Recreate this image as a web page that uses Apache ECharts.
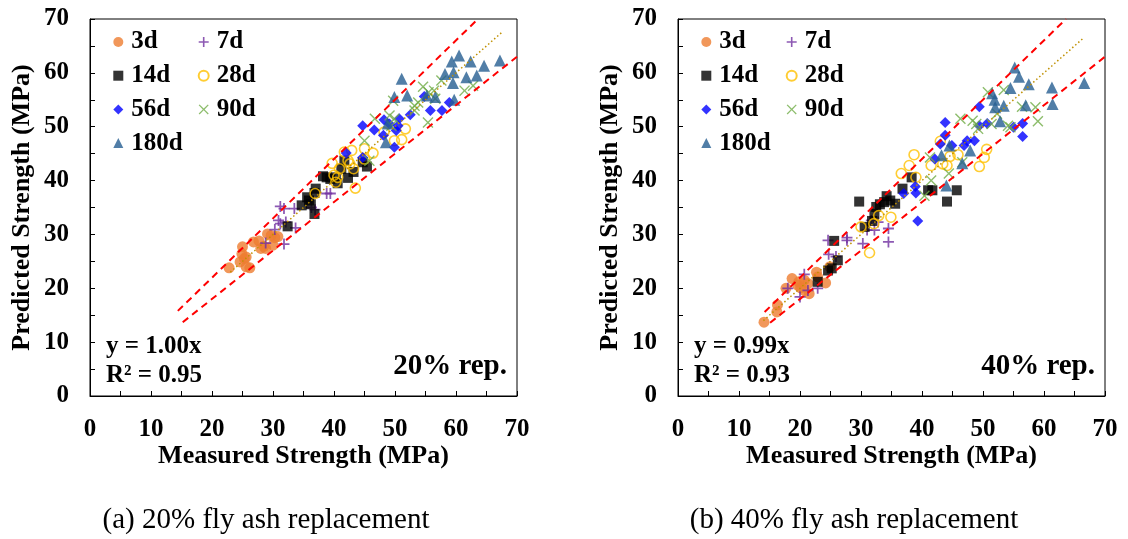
<!DOCTYPE html>
<html><head><meta charset="utf-8">
<script src="https://cdn.jsdelivr.net/npm/echarts@6/dist/echarts.min.js"></script>
<style>html,body{margin:0;padding:0;background:#fff}#c{width:1128px;height:539px}</style>
</head><body><div id="c"></div>
<script>
const FONT = '"Liberation Serif","Times New Roman",serif';
const seriesNames = ['3d','7d','14d','28d','56d','90d','180d'];
const axisMin = 0, axisMax = 70, axisStep = 10;
const xTitle = 'Measured Strength (MPa)';
const yTitle = 'Predicted Strength (MPa)';
const captions = ['(a) 20% fly ash replacement', '(b) 40% fly ash replacement'];
const equations = [['y = 1.00x', 'R² = 0.95'], ['y = 0.99x', 'R² = 0.93']];
const panelTags = ['20% rep.', '40% rep.'];

// ---- (a) 20% replacement: [measured, predicted]
const L3d = [[22.8,23.8],[25.0,27.7],[24.9,26.4],[25.3,25.5],[24.6,24.9],[25.6,24.0],[26.2,23.8],[26.8,28.6],[27.7,28.8],[28.0,27.4],[28.5,27.8],[29.1,30.1],[29.7,29.8],[30.3,29.4],[30.8,29.6],[30.0,28.0],[28.8,27.4],[25.6,25.8]];
const L7d = [[28.8,28.4],[31.2,35.2],[31.8,34.8],[33.5,34.8],[30.9,32.6],[31.2,32.0],[32.1,32.3],[30.3,30.9],[31.8,28.2],[33.7,31.2],[38.8,37.6],[39.4,37.6],[36.3,35.0],[36.9,34.6]];
const L14d = [[32.4,31.5],[34.7,35.4],[35.6,36.9],[35.9,36.3],[36.2,35.6],[36.8,33.8],[37.0,38.5],[36.8,37.7],[38.2,40.8],[38.8,40.6],[39.4,40.3],[40.6,39.5],[40.3,40.6],[41.7,43.7],[42.3,40.5],[43.2,41.6],[45.4,42.6],[44.7,43.4],[41.2,42.2]];
const L28d = [[36.9,37.6],[39.7,43.2],[40.0,41.0],[40.6,40.6],[40.9,42.2],[41.7,45.3],[42.9,45.6],[42.3,43.7],[42.6,43.1],[43.2,42.2],[43.5,38.6],[45.0,45.9],[45.0,44.0],[46.4,45.1],[48.2,49.0],[49.9,47.4],[51.1,47.6],[51.7,49.6],[40.3,39.7]];
const L56d = [[42.0,45.1],[44.7,50.2],[44.7,44.3],[46.6,49.4],[48.1,48.4],[48.2,51.3],[49.1,50.5],[49.9,46.2],[50.2,49.3],[50.7,51.5],[50.5,50.2],[52.5,52.2],[54.8,55.6],[55.8,53.0],[57.7,53.0],[58.9,54.5]];
const L90d = [[45.0,47.4],[45.8,43.7],[46.7,51.5],[49.1,52.1],[49.7,54.8],[49.4,50.2],[53.2,53.9],[53.8,54.5],[54.6,57.4],[55.5,56.4],[55.4,50.8],[56.6,55.2],[57.6,58.6],[61.4,56.7],[62.8,57.6],[56.4,56.7],[53.2,53.0],[49.9,51.5]];
const L180d = [[48.5,47.1],[48.8,50.6],[49.9,55.5],[51.1,58.9],[52.0,55.8],[55.2,55.8],[56.6,55.5],[58.2,59.8],[59.3,62.1],[59.5,58.1],[59.6,60.1],[60.5,63.2],[61.7,59.2],[62.4,62.1],[63.4,59.5],[64.6,61.3],[67.2,62.3],[59.7,55.0]];
const LupperBand = [[14.4,15.8],[63.6,70]];
const LlowerBand = [[15.2,13.7],[70,63]];
const LfitLine = [[23,23],[67.5,67.5]];

// ---- (b) 40% replacement
const R3d = [[14.1,13.7],[16.2,15.6],[16.3,16.9],[17.7,20.0],[18.7,21.8],[19.6,20.6],[20.1,20.1],[20.7,21.5],[21.3,20.9],[21.5,19.0],[22.7,23.0],[22.9,22.1],[24.2,21.0],[24.9,24.0],[19.8,21.2],[20.7,19.6]];
const R7d = [[18.0,20.0],[20.0,18.4],[20.7,22.6],[21.3,19.6],[22.9,20.0],[24.6,28.9],[24.7,26.3],[25.9,25.9],[27.7,29.4],[27.7,28.9],[30.3,28.3],[31.0,30.8],[32.2,30.8],[32.8,32.3],[34.5,31.1],[34.5,28.6],[31.7,32.6]];
const R14d = [[22.9,21.2],[24.6,23.3],[25.2,23.7],[25.6,28.8],[26.2,25.2],[29.7,36.1],[30.6,31.4],[31.8,32.5],[32.5,35.1],[33.1,35.6],[33.8,36.0],[34.2,37.1],[34.8,36.3],[35.6,35.7],[36.8,38.5],[38.3,40.6],[41.0,38.2],[41.7,38.2],[44.1,36.1],[45.7,38.2],[32.2,33.8]];
const R28d = [[30.0,31.4],[31.4,26.6],[32.1,32.0],[32.9,33.5],[34.9,33.2],[36.6,41.3],[37.9,42.8],[38.7,44.8],[39.0,40.6],[41.5,42.8],[43.0,47.3],[43.4,43.1],[44.1,42.8],[44.6,44.5],[45.9,44.8],[49.4,42.6],[50.2,44.3],[50.6,45.8]];
const R56d = [[37.0,37.6],[38.9,38.9],[39.0,37.7],[39.3,32.5],[43.0,46.8],[43.8,50.8],[43.8,48.4],[44.9,46.5],[46.9,46.5],[47.4,47.4],[48.6,47.4],[49.4,53.7],[49.4,50.2],[50.7,50.6],[55.0,49.9],[56.5,50.6],[56.5,48.2],[42.1,44.0]];
const R90d = [[40.4,37.2],[41.5,40.0],[41.3,44.3],[44.4,41.3],[46.3,51.5],[48.3,51.1],[48.9,50.5],[49.2,49.6],[50.8,56.4],[51.4,50.5],[52.3,52.4],[53.4,56.8],[54.1,50.2],[54.5,49.9],[56.4,53.7],[58.6,53.6],[59.0,51.0],[46.6,43.4]];
const R180d = [[44.0,39.1],[43.2,44.7],[44.5,46.5],[46.6,43.2],[47.9,45.6],[51.5,56.2],[51.9,55.0],[52.0,53.6],[52.8,51.0],[53.4,53.9],[54.5,57.2],[55.2,61.0],[55.9,59.3],[57.5,57.9],[57.0,54.0],[61.3,57.3],[61.4,54.2],[66.6,58.1]];
const RupperBand = [[14.2,15.6],[63.6,70]];
const RlowerBand = [[15.1,13.6],[70,63]];
const RfitLine = [[14,14],[66.5,66.5]];

const panels = [
  {data:[L3d,L7d,L14d,L28d,L56d,L90d,L180d], bands:[LupperBand,LlowerBand], fit:LfitLine, left:90},
  {data:[R3d,R7d,R14d,R28d,R56d,R90d,R180d], bands:[RupperBand,RlowerBand], fit:RfitLine, left:678}
];

const PLUS = 'path://M4.2,0H5.8V4.2H10V5.8H5.8V10H4.2V5.8H0V4.2H4.2Z';
const CROSS = 'path://M0,0.9L0.9,0L5,4.1L9.1,0L10,0.9L5.9,5L10,9.1L9.1,10L5,5.9L0.9,10L0,9.1L4.1,5Z';
const styles = [
  {symbol:'circle', size:11, itemStyle:{color:'#ED7D31'}},
  {symbol:PLUS, size:11, itemStyle:{color:'#7030A0'}},
  {symbol:'rect', size:10, itemStyle:{color:'#000000'}},
  {symbol:'circle', size:10, itemStyle:{color:'rgba(255,255,255,0)', borderColor:'#FFC000', borderWidth:1.6}},
  {symbol:'diamond', size:11, itemStyle:{color:'#0000FF'}},
  {symbol:CROSS, size:11, itemStyle:{color:'#70AD47'}},
  {symbol:'triangle', size:12, itemStyle:{color:'#255E91'}}
];

const GW = 427, GH = 377, GT = 19;
const grids = [], xAxes = [], yAxes = [], series = [], legends = [], graphics = [];
const labelFont = {fontFamily:FONT, fontWeight:'bold', fontSize:25, color:'#000'};

panels.forEach((p, i) => {
  grids.push({left:p.left, top:GT, width:GW, height:GH, show:true, borderColor:'#000', borderWidth:1, backgroundColor:'transparent'});
  const axisCommon = {
    type:'value', min:axisMin, max:axisMax, interval:axisStep, gridIndex:i,
    axisLine:{show:true, lineStyle:{color:'#000', width:1}},
    axisTick:{show:true, inside:true, length:5, lineStyle:{color:'#000'}},
    minorTick:{show:true, splitNumber:2, length:5, lineStyle:{color:'#000'}},
    splitLine:{show:false},
    nameLocation:'middle', nameMoveOverlap:false,
    nameTextStyle:{fontFamily:FONT, fontWeight:'bold', fontSize:26, color:'#000'}
  };
  xAxes.push(Object.assign({}, axisCommon, {name:xTitle, nameGap:47, axisLabel:Object.assign({margin:21}, labelFont)}));
  yAxes.push(Object.assign({}, axisCommon, {name:yTitle, nameGap:55, axisLabel:Object.assign({margin:21}, labelFont)}));

  p.data.forEach((d, k) => {
    series.push({
      type:'scatter', name:seriesNames[k], xAxisIndex:i, yAxisIndex:i,
      data:d, symbol:styles[k].symbol, symbolSize:styles[k].size,
      itemStyle:styles[k].itemStyle, emphasis:{disabled:true}, z:2
    });
  });
  p.bands.forEach(b => series.push({
    type:'line', xAxisIndex:i, yAxisIndex:i, data:b, symbol:'none', silent:true, z:5,
    lineStyle:{color:'#FF0000', width:2, type:[7,5]}
  }));
  series.push({
    type:'line', xAxisIndex:i, yAxisIndex:i, data:p.fit, symbol:'none', silent:true, z:4,
    lineStyle:{color:'#BF9000', width:1.5, type:[1.5,2.5]}
  });

  const legCommon = {
    orient:'vertical', top:29.5, itemWidth:10, itemHeight:10, itemGap:8.7, padding:0,
    selectedMode:false,
    textStyle:{fontFamily:FONT, fontWeight:'bold', fontSize:25, lineHeight:25, color:'#000', padding:[0,0,0,3]}
  };
  legends.push(Object.assign({}, legCommon, {left:p.left + 23.3, data:['3d','14d','56d','180d']}));
  legends.push(Object.assign({}, legCommon, {left:p.left + 107.7, data:['7d','28d','90d']}));

  graphics.push({type:'text', x:p.left + 16, y:347, style:{text:equations[i][0], font:'bold 25px ' + FONT, fill:'#000', align:'left', verticalAlign:'middle'}});
  graphics.push({type:'text', x:p.left + 16, y:376, style:{text:equations[i][1], font:'bold 25px ' + FONT, fill:'#000', align:'left', verticalAlign:'middle'}});
  graphics.push({type:'text', x:p.left + GW - 10, y:367, style:{text:panelTags[i], font:'bold 29px ' + FONT, fill:'#000', align:'right', verticalAlign:'middle'}});
  graphics.push({type:'text', x:[266, 854][i], y:520, style:{text:captions[i], font:'29px ' + FONT, fill:'#000', align:'center', verticalAlign:'middle'}});
});

const chart = echarts.init(document.getElementById('c'), null, {renderer:'canvas'});
chart.setOption({
  animation:false,
  backgroundColor:'#fff',
  grid:grids, xAxis:xAxes, yAxis:yAxes, legend:legends, series:series, graphic:graphics
});
</script></body></html>
